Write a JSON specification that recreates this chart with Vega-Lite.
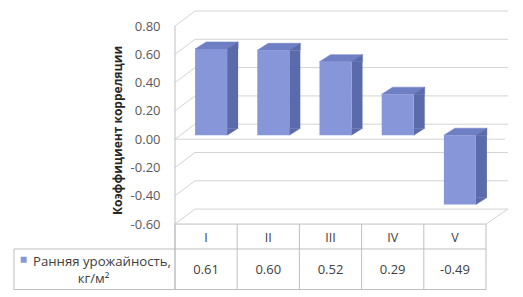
{
  "$schema": "https://vega.github.io/schema/vega-lite/v6.json",
  "width": 311,
  "height": 290,
  "autosize": "none",
  "padding": {"left": 175, "top": 0, "right": 37, "bottom": 7},
  "background": "white",
  "config": {
    "view": {"stroke": null},
    "font": "Open Sans",
    "locale": {"number": {"decimal": ".", "thousands": ",", "grouping": [3], "currency": ["$", ""], "minus": "-"}},
    "axisY": {"domain": false, "ticks": false, "grid": false,
      "labelFont": "Open Sans", "labelFontSize": 13, "labelColor": "#595959", "labelPadding": 15,
      "titleFont": "Open Sans", "titleFontSize": 12, "titleFontWeight": "bold", "titleColor": "#262626",
      "titleX": -51, "titleY": 130, "titleAngle": -90, "titleBaseline": "bottom", "titleAlign": "center"}
  },
  "datasets": {
    "bars": [
      {"cat": "I", "v": 0.61},
      {"cat": "II", "v": 0.60},
      {"cat": "III", "v": 0.52},
      {"cat": "IV", "v": 0.29},
      {"cat": "V", "v": -0.49}
    ],
    "grid": [
      {"v": -0.6}, {"v": -0.4}, {"v": -0.2}, {"v": 0}, {"v": 0.2}, {"v": 0.4}, {"v": 0.6}, {"v": 0.8}
    ]
  },
  "layer": [
    {
      "data": {"name": "grid"},
      "mark": {"type": "point", "shape": "M0,0L20,-15L333,-15", "size": 4, "filled": false, "stroke": "#d4d4d4", "strokeWidth": 1, "opacity": 1, "xOffset": -31.1},
      "encoding": {
        "x": {"datum": "I", "type": "nominal", "scale": {"type": "band", "domain": ["I", "II", "III", "IV", "V"], "paddingInner": 0, "paddingOuter": 0}, "axis": null},
        "y": {"field": "v", "type": "quantitative", "title": "Коэффициент корреляции", "scale": {"domain": [-1.066, 0.984], "nice": false, "zero": false}, "axis": {"values": [-0.6, -0.4, -0.2, 0, 0.2, 0.4, 0.6, 0.8], "format": ".2f"}}
      }
    },
    {
      "data": {"name": "grid"},
      "transform": [{"filter": "datum.v == -0.6"}],
      "mark": {"type": "point", "shape": "M311,0L333,-15", "size": 4, "filled": false, "stroke": "#d4d4d4", "strokeWidth": 1, "opacity": 1, "xOffset": -31.1},
      "encoding": {
        "x": {"datum": "I", "type": "nominal", "scale": {"type": "band", "domain": ["I", "II", "III", "IV", "V"], "paddingInner": 0, "paddingOuter": 0}, "axis": null},
        "y": {"field": "v", "type": "quantitative", "title": "Коэффициент корреляции", "scale": {"domain": [-1.066, 0.984], "nice": false, "zero": false}, "axis": {"values": [-0.6, -0.4, -0.2, 0, 0.2, 0.4, 0.6, 0.8], "format": ".2f"}}
      }
    },
    {
      "data": {"name": "grid"},
      "transform": [{"filter": "datum.v == 0"}],
      "mark": {"type": "point", "shape": "M0,0L330,0", "size": 4, "filled": false, "stroke": "#d4d4d4", "strokeWidth": 1, "opacity": 1, "xOffset": -31.1},
      "encoding": {
        "x": {"datum": "I", "type": "nominal", "scale": {"type": "band", "domain": ["I", "II", "III", "IV", "V"], "paddingInner": 0, "paddingOuter": 0}, "axis": null},
        "y": {"field": "v", "type": "quantitative", "title": "Коэффициент корреляции", "scale": {"domain": [-1.066, 0.984], "nice": false, "zero": false}, "axis": {"values": [-0.6, -0.4, -0.2, 0, 0.2, 0.4, 0.6, 0.8], "format": ".2f"}}
      }
    },
    {
      "data": {"name": "bars"},
      "transform": [{"filter": "datum.v >= 0"}],
      "mark": {"type": "bar", "width": 11, "xOffset": 26.5, "yOffset": -4, "y2Offset": -11, "color": "#5b6aab"},
      "encoding": {
        "x": {"field": "cat", "type": "nominal", "scale": {"type": "band", "domain": ["I", "II", "III", "IV", "V"], "paddingInner": 0, "paddingOuter": 0}, "axis": null},
        "y": {"field": "v", "type": "quantitative", "title": "Коэффициент корреляции", "scale": {"domain": [-1.066, 0.984], "nice": false, "zero": false}, "axis": {"values": [-0.6, -0.4, -0.2, 0, 0.2, 0.4, 0.6, 0.8], "format": ".2f"}},
        "y2": {"datum": 0}
      }
    },
    {
      "data": {"name": "bars"},
      "transform": [{"filter": "datum.v < 0"}],
      "mark": {"type": "bar", "width": 11, "xOffset": 26.5, "yOffset": -11, "y2Offset": -4, "color": "#5b6aab"},
      "encoding": {
        "x": {"field": "cat", "type": "nominal", "scale": {"type": "band", "domain": ["I", "II", "III", "IV", "V"], "paddingInner": 0, "paddingOuter": 0}, "axis": null},
        "y": {"field": "v", "type": "quantitative", "title": "Коэффициент корреляции", "scale": {"domain": [-1.066, 0.984], "nice": false, "zero": false}, "axis": {"values": [-0.6, -0.4, -0.2, 0, 0.2, 0.4, 0.6, 0.8], "format": ".2f"}},
        "y2": {"datum": 0}
      }
    },
    {
      "data": {"name": "bars"},
      "transform": [{"filter": "datum.v >= 0"}],
      "mark": {"type": "point", "shape": "M0,0L32,0L43,-7L11,-7Z", "size": 4, "filled": true, "fill": "#6f7fc4", "stroke": "#6f7fc4", "strokeWidth": 0.5, "opacity": 1, "xOffset": -11, "yOffset": -4},
      "encoding": {
        "x": {"field": "cat", "type": "nominal", "scale": {"type": "band", "domain": ["I", "II", "III", "IV", "V"], "paddingInner": 0, "paddingOuter": 0}, "axis": null},
        "y": {"field": "v", "type": "quantitative", "title": "Коэффициент корреляции", "scale": {"domain": [-1.066, 0.984], "nice": false, "zero": false}, "axis": {"values": [-0.6, -0.4, -0.2, 0, 0.2, 0.4, 0.6, 0.8], "format": ".2f"}}
      }
    },
    {
      "data": {"name": "bars"},
      "transform": [{"filter": "datum.v < 0"}],
      "mark": {"type": "point", "shape": "M0,0L32,0L43,-7L11,-7Z", "size": 4, "filled": true, "fill": "#6f7fc4", "stroke": "#6f7fc4", "strokeWidth": 0.5, "opacity": 1, "xOffset": -11, "yOffset": -4},
      "encoding": {
        "x": {"field": "cat", "type": "nominal", "scale": {"type": "band", "domain": ["I", "II", "III", "IV", "V"], "paddingInner": 0, "paddingOuter": 0}, "axis": null},
        "y": {"datum": 0, "type": "quantitative", "title": "Коэффициент корреляции", "scale": {"domain": [-1.066, 0.984], "nice": false, "zero": false}, "axis": {"values": [-0.6, -0.4, -0.2, 0, 0.2, 0.4, 0.6, 0.8], "format": ".2f"}}
      }
    },
    {
      "data": {"name": "bars"},
      "transform": [{"filter": "datum.v >= 0"}],
      "mark": {"type": "point", "shape": "M32,0L43,-7L43,0Z", "size": 4, "filled": true, "fill": "#5b6aab", "stroke": "#5b6aab", "strokeWidth": 0.5, "opacity": 1, "xOffset": -11, "yOffset": -4},
      "encoding": {
        "x": {"field": "cat", "type": "nominal", "scale": {"type": "band", "domain": ["I", "II", "III", "IV", "V"], "paddingInner": 0, "paddingOuter": 0}, "axis": null},
        "y": {"field": "v", "type": "quantitative", "title": "Коэффициент корреляции", "scale": {"domain": [-1.066, 0.984], "nice": false, "zero": false}, "axis": {"values": [-0.6, -0.4, -0.2, 0, 0.2, 0.4, 0.6, 0.8], "format": ".2f"}}
      }
    },
    {
      "data": {"name": "bars"},
      "transform": [{"filter": "datum.v < 0"}],
      "mark": {"type": "point", "shape": "M32,0L43,-7L43,0Z", "size": 4, "filled": true, "fill": "#5b6aab", "stroke": "#5b6aab", "strokeWidth": 0.5, "opacity": 1, "xOffset": -11, "yOffset": -4},
      "encoding": {
        "x": {"field": "cat", "type": "nominal", "scale": {"type": "band", "domain": ["I", "II", "III", "IV", "V"], "paddingInner": 0, "paddingOuter": 0}, "axis": null},
        "y": {"datum": 0, "type": "quantitative", "title": "Коэффициент корреляции", "scale": {"domain": [-1.066, 0.984], "nice": false, "zero": false}, "axis": {"values": [-0.6, -0.4, -0.2, 0, 0.2, 0.4, 0.6, 0.8], "format": ".2f"}}
      }
    },
    {
      "data": {"name": "bars"},
      "transform": [{"filter": "datum.v >= 0"}],
      "mark": {"type": "point", "shape": "M32,-7L32,0L43,-7Z", "size": 4, "filled": true, "fill": "#5b6aab", "stroke": "#5b6aab", "strokeWidth": 0.5, "opacity": 1, "xOffset": -11, "yOffset": -4},
      "encoding": {
        "x": {"field": "cat", "type": "nominal", "scale": {"type": "band", "domain": ["I", "II", "III", "IV", "V"], "paddingInner": 0, "paddingOuter": 0}, "axis": null},
        "y": {"datum": 0, "type": "quantitative", "title": "Коэффициент корреляции", "scale": {"domain": [-1.066, 0.984], "nice": false, "zero": false}, "axis": {"values": [-0.6, -0.4, -0.2, 0, 0.2, 0.4, 0.6, 0.8], "format": ".2f"}}
      }
    },
    {
      "data": {"name": "bars"},
      "transform": [{"filter": "datum.v < 0"}],
      "mark": {"type": "point", "shape": "M32,-7L32,0L43,-7Z", "size": 4, "filled": true, "fill": "#5b6aab", "stroke": "#5b6aab", "strokeWidth": 0.5, "opacity": 1, "xOffset": -11, "yOffset": -4},
      "encoding": {
        "x": {"field": "cat", "type": "nominal", "scale": {"type": "band", "domain": ["I", "II", "III", "IV", "V"], "paddingInner": 0, "paddingOuter": 0}, "axis": null},
        "y": {"field": "v", "type": "quantitative", "title": "Коэффициент корреляции", "scale": {"domain": [-1.066, 0.984], "nice": false, "zero": false}, "axis": {"values": [-0.6, -0.4, -0.2, 0, 0.2, 0.4, 0.6, 0.8], "format": ".2f"}}
      }
    },
    {
      "data": {"name": "bars"},
      "mark": {"type": "bar", "width": 32, "xOffset": 5, "yOffset": -4, "y2Offset": -4, "color": "#8696d8"},
      "encoding": {
        "x": {"field": "cat", "type": "nominal", "scale": {"type": "band", "domain": ["I", "II", "III", "IV", "V"], "paddingInner": 0, "paddingOuter": 0}, "axis": null},
        "y": {"field": "v", "type": "quantitative", "title": "Коэффициент корреляции", "scale": {"domain": [-1.066, 0.984], "nice": false, "zero": false}, "axis": {"values": [-0.6, -0.4, -0.2, 0, 0.2, 0.4, 0.6, 0.8], "format": ".2f"}},
        "y2": {"datum": 0}
      }
    },
    {
      "data": {"values": [{}]},
      "mark": {"type": "rule", "color": "#bfbfbf", "strokeWidth": 1},
      "encoding": {
        "x": {"datum": "I", "type": "nominal", "bandPosition": 0, "scale": {"type": "band", "domain": ["I", "II", "III", "IV", "V"], "paddingInner": 0, "paddingOuter": 0}, "axis": null},
        "y": {"datum": 0.8, "type": "quantitative", "title": "Коэффициент корреляции", "scale": {"domain": [-1.066, 0.984], "nice": false, "zero": false}, "axis": {"values": [-0.6, -0.4, -0.2, 0, 0.2, 0.4, 0.6, 0.8], "format": ".2f"}},
        "y2": {"datum": -1.066}
      }
    },
    {
      "data": {"values": [{}]},
      "mark": {"type": "rule", "color": "#bfbfbf", "strokeWidth": 1},
      "encoding": {
        "y": {"datum": -0.6, "type": "quantitative", "title": "Коэффициент корреляции", "scale": {"domain": [-1.066, 0.984], "nice": false, "zero": false}, "axis": {"values": [-0.6, -0.4, -0.2, 0, 0.2, 0.4, 0.6, 0.8], "format": ".2f"}}
      }
    },
    {
      "data": {"values": [{}]},
      "mark": {"type": "rule", "color": "#bfbfbf", "strokeWidth": 1, "xOffset": -161},
      "encoding": {
        "x": {"datum": "I", "type": "nominal", "bandPosition": 0, "scale": {"type": "band", "domain": ["I", "II", "III", "IV", "V"], "paddingInner": 0, "paddingOuter": 0}, "axis": null},
        "x2": {"datum": "V", "bandPosition": 1},
        "y": {"datum": -0.776, "type": "quantitative", "title": "Коэффициент корреляции", "scale": {"domain": [-1.066, 0.984], "nice": false, "zero": false}, "axis": {"values": [-0.6, -0.4, -0.2, 0, 0.2, 0.4, 0.6, 0.8], "format": ".2f"}}
      }
    },
    {
      "data": {"values": [{}]},
      "mark": {"type": "rule", "color": "#bfbfbf", "strokeWidth": 1, "xOffset": -161, "yOffset": -0.5},
      "encoding": {
        "x": {"datum": "I", "type": "nominal", "bandPosition": 0, "scale": {"type": "band", "domain": ["I", "II", "III", "IV", "V"], "paddingInner": 0, "paddingOuter": 0}, "axis": null},
        "x2": {"datum": "V", "bandPosition": 1},
        "y": {"datum": -1.066, "type": "quantitative", "title": "Коэффициент корреляции", "scale": {"domain": [-1.066, 0.984], "nice": false, "zero": false}, "axis": {"values": [-0.6, -0.4, -0.2, 0, 0.2, 0.4, 0.6, 0.8], "format": ".2f"}}
      }
    },
    {
      "data": {"values": [{}]},
      "mark": {"type": "rule", "color": "#bfbfbf", "strokeWidth": 1, "xOffset": -161},
      "encoding": {
        "x": {"datum": "I", "type": "nominal", "bandPosition": 0, "scale": {"type": "band", "domain": ["I", "II", "III", "IV", "V"], "paddingInner": 0, "paddingOuter": 0}, "axis": null},
        "y": {"datum": -0.776, "type": "quantitative", "title": "Коэффициент корреляции", "scale": {"domain": [-1.066, 0.984], "nice": false, "zero": false}, "axis": {"values": [-0.6, -0.4, -0.2, 0, 0.2, 0.4, 0.6, 0.8], "format": ".2f"}},
        "y2": {"datum": -1.066}
      }
    },
    {
      "data": {"name": "bars"},
      "mark": {"type": "rule", "color": "#bfbfbf", "strokeWidth": 1},
      "encoding": {
        "x": {"field": "cat", "type": "nominal", "bandPosition": 0, "scale": {"type": "band", "domain": ["I", "II", "III", "IV", "V"], "paddingInner": 0, "paddingOuter": 0}, "axis": null},
        "y": {"datum": -0.6, "type": "quantitative", "title": "Коэффициент корреляции", "scale": {"domain": [-1.066, 0.984], "nice": false, "zero": false}, "axis": {"values": [-0.6, -0.4, -0.2, 0, 0.2, 0.4, 0.6, 0.8], "format": ".2f"}},
        "y2": {"datum": -1.066}
      }
    },
    {
      "data": {"values": [{}]},
      "mark": {"type": "rule", "color": "#bfbfbf", "strokeWidth": 1},
      "encoding": {
        "x": {"datum": "V", "type": "nominal", "bandPosition": 1, "scale": {"type": "band", "domain": ["I", "II", "III", "IV", "V"], "paddingInner": 0, "paddingOuter": 0}, "axis": null},
        "y": {"datum": -0.6, "type": "quantitative", "title": "Коэффициент корреляции", "scale": {"domain": [-1.066, 0.984], "nice": false, "zero": false}, "axis": {"values": [-0.6, -0.4, -0.2, 0, 0.2, 0.4, 0.6, 0.8], "format": ".2f"}},
        "y2": {"datum": -1.066}
      }
    },
    {
      "data": {"name": "bars"},
      "mark": {"type": "text", "font": "Open Sans", "fontSize": 12.5, "color": "#404040", "baseline": "middle", "align": "center"},
      "encoding": {
        "x": {"field": "cat", "type": "nominal", "scale": {"type": "band", "domain": ["I", "II", "III", "IV", "V"], "paddingInner": 0, "paddingOuter": 0}, "axis": null},
        "y": {"datum": -0.695, "type": "quantitative", "title": "Коэффициент корреляции", "scale": {"domain": [-1.066, 0.984], "nice": false, "zero": false}, "axis": {"values": [-0.6, -0.4, -0.2, 0, 0.2, 0.4, 0.6, 0.8], "format": ".2f"}},
        "text": {"field": "cat"}
      }
    },
    {
      "data": {"name": "bars"},
      "mark": {"type": "text", "font": "Open Sans", "fontSize": 13, "color": "#404040", "baseline": "middle", "align": "center"},
      "encoding": {
        "x": {"field": "cat", "type": "nominal", "scale": {"type": "band", "domain": ["I", "II", "III", "IV", "V"], "paddingInner": 0, "paddingOuter": 0}, "axis": null},
        "y": {"datum": -0.925, "type": "quantitative", "title": "Коэффициент корреляции", "scale": {"domain": [-1.066, 0.984], "nice": false, "zero": false}, "axis": {"values": [-0.6, -0.4, -0.2, 0, 0.2, 0.4, 0.6, 0.8], "format": ".2f"}},
        "text": {"field": "v", "type": "quantitative", "format": ".2f"}
      }
    },
    {
      "data": {"values": [{}]},
      "mark": {"type": "point", "shape": "square", "size": 36, "filled": true, "color": "#8696d8", "opacity": 1, "xOffset": -151.3},
      "encoding": {
        "x": {"datum": "I", "type": "nominal", "bandPosition": 0, "scale": {"type": "band", "domain": ["I", "II", "III", "IV", "V"], "paddingInner": 0, "paddingOuter": 0}, "axis": null},
        "y": {"datum": -0.852, "type": "quantitative", "title": "Коэффициент корреляции", "scale": {"domain": [-1.066, 0.984], "nice": false, "zero": false}, "axis": {"values": [-0.6, -0.4, -0.2, 0, 0.2, 0.4, 0.6, 0.8], "format": ".2f"}}
      }
    },
    {
      "data": {"values": [{}]},
      "mark": {"type": "text", "font": "Open Sans", "fontSize": 13.2, "color": "#404040", "baseline": "middle", "align": "left", "xOffset": -142, "text": "Ранняя урожайность,"},
      "encoding": {
        "x": {"datum": "I", "type": "nominal", "bandPosition": 0, "scale": {"type": "band", "domain": ["I", "II", "III", "IV", "V"], "paddingInner": 0, "paddingOuter": 0}, "axis": null},
        "y": {"datum": -0.868, "type": "quantitative", "title": "Коэффициент корреляции", "scale": {"domain": [-1.066, 0.984], "nice": false, "zero": false}, "axis": {"values": [-0.6, -0.4, -0.2, 0, 0.2, 0.4, 0.6, 0.8], "format": ".2f"}}
      }
    },
    {
      "data": {"values": [{}]},
      "mark": {"type": "text", "font": "Open Sans", "fontSize": 13.2, "color": "#404040", "baseline": "middle", "align": "center", "xOffset": -81.5, "text": "кг/м²"},
      "encoding": {
        "x": {"datum": "I", "type": "nominal", "bandPosition": 0, "scale": {"type": "band", "domain": ["I", "II", "III", "IV", "V"], "paddingInner": 0, "paddingOuter": 0}, "axis": null},
        "y": {"datum": -0.988, "type": "quantitative", "title": "Коэффициент корреляции", "scale": {"domain": [-1.066, 0.984], "nice": false, "zero": false}, "axis": {"values": [-0.6, -0.4, -0.2, 0, 0.2, 0.4, 0.6, 0.8], "format": ".2f"}}
      }
    }
  ]
}
